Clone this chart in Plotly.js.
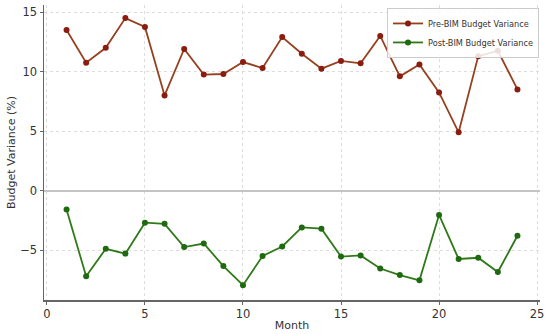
<!DOCTYPE html>
<html><head><meta charset="utf-8">
<script src="https://cdn.plot.ly/plotly-3.0.1.min.js"></script>
<style>html,body{margin:0;padding:0;background:#fff}#chart{width:550px;height:334px}</style>
</head><body><div id="chart"></div>
<script>
const months = [1,2,3,4,5,6,7,8,9,10,11,12,13,14,15,16,17,18,19,20,21,22,23,24];
const preBIM = [13.5,10.75,12.0,14.5,13.75,8.0,11.9,9.75,9.8,10.8,10.3,12.9,11.5,10.25,10.9,10.7,13.0,9.6,10.6,8.25,4.9,11.3,11.75,8.5];
const postBIM = [-1.6,-7.2,-4.9,-5.3,-2.7,-2.8,-4.75,-4.45,-6.35,-7.95,-5.5,-4.7,-3.1,-3.2,-5.55,-5.45,-6.55,-7.1,-7.55,-2.05,-5.75,-5.65,-6.85,-3.8];
const xTicks = [0,5,10,15,20,25];
const yTicks = [-5,0,5,10,15];

const traces = [
  {x: months, y: preBIM, mode: 'lines+markers', name: 'Pre-BIM Budget Variance',
   line: {color: '#97401f', width: 1.8}, marker: {color: '#8a1c10', size: 6}},
  {x: months, y: postBIM, mode: 'lines+markers', name: 'Post-BIM Budget Variance',
   line: {color: '#2f7a18', width: 1.8}, marker: {color: '#1f6a10', size: 6}}
];
const layout = {
  width: 550, height: 334,
  margin: {l: 44, r: 10, t: 5, b: 34},
  paper_bgcolor: '#fff', plot_bgcolor: '#fff',
  font: {family: 'DejaVu Sans, sans-serif', size: 11.5, color: '#333'},
  showlegend: true,
  legend: {x: 0.998, y: 0.99, xanchor: 'right', yanchor: 'top', bgcolor: 'rgba(255,255,255,0.85)',
           bordercolor: '#ccc', borderwidth: 1, font: {size: 8.2, color: '#333'}, tracegroupgap: 0, itemwidth: 30},
  xaxis: {range: [-0.15, 25.15], tickvals: xTicks, showgrid: true, gridcolor: '#dddddd', griddash: 'dot',
          zeroline: false, showline: true, linecolor: '#666', linewidth: 1.5, ticks: 'outside', ticklen: 3,
          tickcolor: '#666', automargin: false, title: {text: 'Month', font: {size: 11}, standoff: 1}},
  yaxis: {range: [-9.2, 15.6], tickvals: yTicks, showgrid: true, gridcolor: '#dddddd', griddash: 'dot',
          zeroline: true, zerolinecolor: '#c4c4c4', zerolinewidth: 2, showline: true, linecolor: '#666', linewidth: 1.5,
          ticks: 'outside', ticklen: 3, tickcolor: '#666', automargin: false,
          title: {text: 'Budget Variance (%)', font: {size: 11}, standoff: 2}}
};
Plotly.newPlot('chart', traces, layout, {displayModeBar: false, staticPlot: true});
</script></body></html>
